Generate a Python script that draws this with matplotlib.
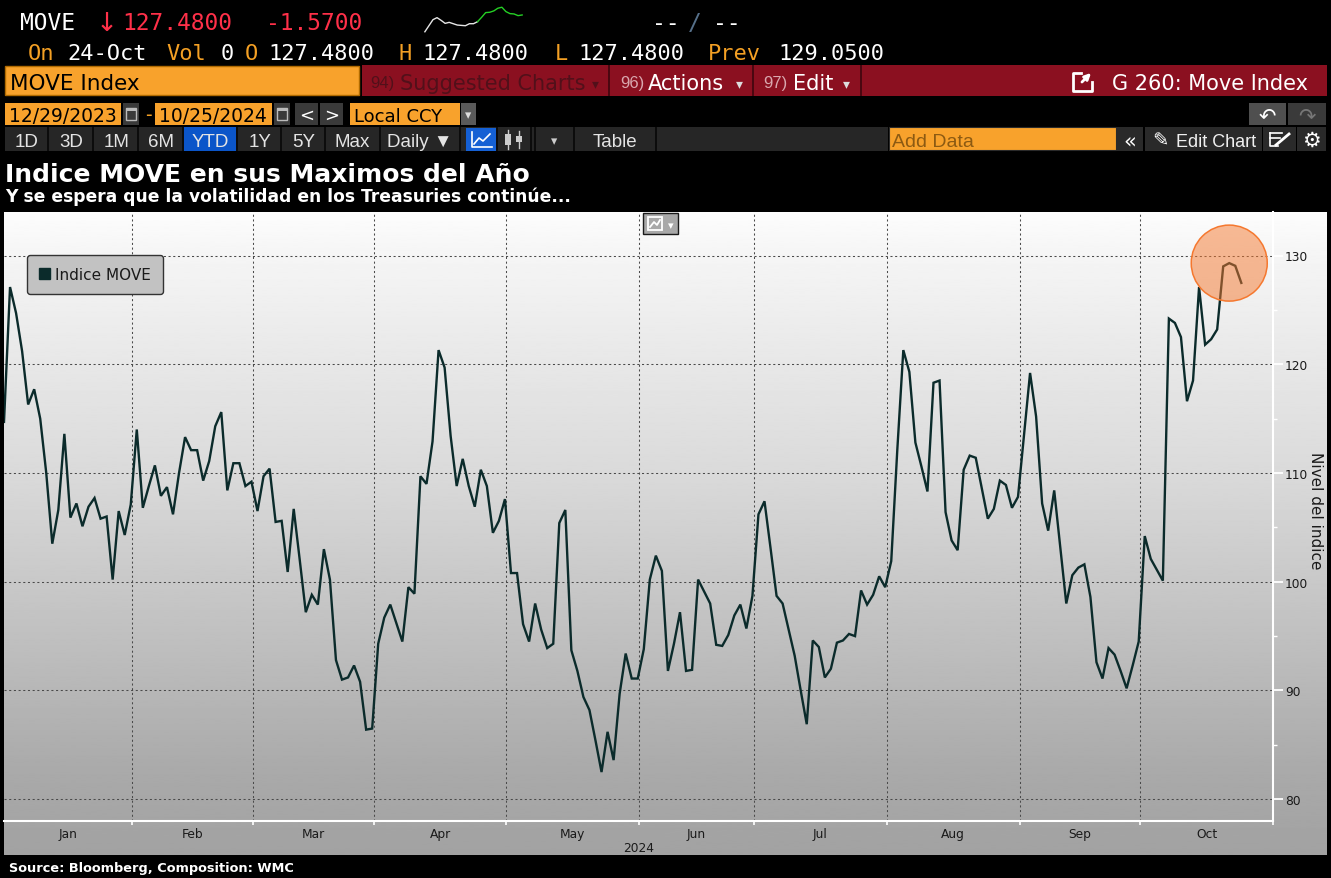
import logging
import numpy as np
import pandas as pd
import matplotlib
matplotlib.use("Agg")
import matplotlib.pyplot as plt
from matplotlib.patches import Rectangle, Ellipse, Patch

logging.getLogger("matplotlib.font_manager").setLevel(logging.ERROR)

W, H = 1331, 879

# MOVE index closes, 29-Dec-2023 .. 24-Oct-2024, one per bond-market day
move_vals = [
    114.7, 127.1, 124.7, 121.2, 116.3, 117.7, 115.0, 110.0, 103.5, 106.6,
    113.6, 105.9, 107.2, 105.1, 106.9, 107.7, 105.8, 106.0, 100.2, 106.5,
    104.3, 107.1, 114.0, 106.8, 108.8, 110.7, 107.9, 108.7, 106.2, 110.0,
    113.3, 112.1, 112.1, 109.3, 111.1, 114.3, 115.6, 108.4, 110.9, 110.9,
    108.8, 109.2, 106.5, 109.7, 110.4, 105.5, 105.6, 100.9, 106.7, 102.0,
    97.2, 98.8, 97.9, 103.0, 100.2, 92.8, 91.0, 91.2, 92.3, 90.8,
    86.4, 86.5, 94.3, 96.7, 97.9, 96.2, 94.5, 99.5, 98.9, 109.7,
    109.0, 112.9, 121.3, 119.7, 113.4, 108.8, 111.3, 108.8, 106.9, 110.3,
    108.8, 104.5, 105.6, 107.6, 100.8, 100.8, 96.1, 94.5, 98.0, 95.6,
    93.9, 94.3, 105.4, 106.6, 93.7, 91.8, 89.4, 88.2, 85.4, 82.5,
    86.2, 83.6, 89.7, 93.4, 91.1, 91.1, 93.8, 100.2, 102.4, 101.0,
    91.8, 94.3, 97.2, 91.8, 91.9, 100.2, 99.1, 98.0, 94.2, 94.1,
    95.1, 96.9, 97.9, 95.7, 98.7, 106.2, 107.4, 103.1, 98.7, 98.0,
    95.6, 93.2, 90.0, 86.9, 94.6, 94.0, 91.2, 92.0, 94.4, 94.6,
    95.2, 95.0, 99.2, 97.9, 98.8, 100.5, 99.5, 101.9, 112.1, 121.3,
    119.3, 112.8, 110.6, 108.3, 118.3, 118.5, 106.4, 103.8, 102.9, 110.3,
    111.6, 111.4, 108.6, 105.8, 106.7, 109.3, 108.9, 106.8, 107.8, 113.5,
    119.2, 115.2, 107.2, 104.7, 108.4, 103.2, 98.0, 100.6, 101.3, 101.6,
    98.6, 92.6, 91.1, 93.9, 93.3, 91.8, 90.2, 92.3, 94.5, 104.2,
    102.1, 101.1, 100.1, 124.2, 123.8, 122.5, 116.6, 118.5, 127.1, 121.8,
    122.3, 123.2, 129.0, 129.3, 129.05, 127.48,
]
bond_holidays = ["2024-01-01", "2024-01-15", "2024-02-19", "2024-03-29", "2024-05-27",
                 "2024-06-19", "2024-07-04", "2024-09-02", "2024-10-14"]
month_names = ["Jan", "Feb", "Mar", "Apr", "May", "Jun", "Jul", "Aug", "Sep", "Oct"]
y_ticks = [80, 90, 100, 110, 120, 130]
series_name = "Indice MOVE"

# little sparkline in the quote header (white = older, green = recent)
spark_vals = [2, 20, 38, 44, 36, 27, 30, 26, 22, 21, 20, 26, 26, 32,
              45, 59, 60, 64, 72, 75, 62, 56, 55, 50, 52]
spark_split = 13

# trading-day index -> month boundaries
days = pd.bdate_range("2023-12-29", "2024-11-01", freq="C", holidays=bond_holidays)
x = np.arange(len(move_vals))
first_idx = [int(np.argmax((days.year == 2024) & (days.month == m))) for m in range(2, 12)]
bounds = [i - 0.75 for i in first_idx]
x_left = 0.0
mids = [(a + b) / 2 for a, b in zip([x_left] + bounds[:-1], bounds)]

# colours / fonts
ORANGE = "#f8a22c"
AMBER = "#f4a024"
RED = "#ff3049"
BAR_RED = "#8b1020"
LINE = "#0b2b2b"
MONO = ["DejaVu Sans Mono"]
SANS = ["DejaVu Sans"]
NARROW = ["Liberation Sans Narrow", "Liberation Sans", "DejaVu Sans"]

fig = plt.figure(figsize=(W / 100, H / 100), dpi=100, facecolor="black")

ui = fig.add_axes([0, 0, 1, 1])
ui.set_xlim(0, W)
ui.set_ylim(H, 0)
ui.axis("off")


def box(x0, y0, x1, y1, fc, ec="none", lw=0.0):
    ui.add_patch(Rectangle((x0, y0), x1 - x0, y1 - y0, fc=fc, ec=ec, lw=lw))


def txt(x0, y0, s, c="white", size=14, fam=SANS, ha="left", weight="normal"):
    ui.text(x0, y0, s, color=c, fontsize=size, family=fam, ha=ha, va="baseline",
            fontweight=weight)


# ---- quote header
txt(20, 30, "MOVE", "white", 16.5, MONO)
txt(96, 31, "↓", RED, 19, SANS)
txt(122, 30, "127.4800", RED, 16.5, MONO)
txt(266, 30, "-1.5700", RED, 16.5, MONO)
txt(652, 30, "--", "white", 16.5, MONO)
txt(688, 30, "/", "#56708a", 16.5, MONO)
txt(713, 30, "--", "white", 16.5, MONO)

sp = fig.add_axes([420 / W, 1 - 34 / H, 107 / W, 27 / H])
sp.axis("off")
sx = np.arange(len(spark_vals))
sp.plot(sx[:spark_split + 1], spark_vals[:spark_split + 1], color="#e6e6e6", lw=1)
sp.plot(sx[spark_split:], spark_vals[spark_split:], color="#25d025", lw=1)

row2 = [(28, "On", AMBER), (67, "24-Oct", "white"), (166, "Vol", AMBER), (221, "0", "white"),
        (245, "O", AMBER), (268, "127.4800", "white"), (399, "H", AMBER),
        (422, "127.4800", "white"), (555, "L", AMBER), (578, "127.4800", "white"),
        (708, "Prev", AMBER), (778, "129.0500", "white")]
for px, s, c in row2:
    txt(px, 60, s, c, 15.8, MONO)

# ---- menu bar
box(5, 67, 359, 96, ORANGE, ec="#b06a00", lw=1)
txt(10, 90, "MOVE Index", "black", 15.5)
box(362, 66, 1327, 97, BAR_RED)
for sx0 in (609, 753, 861):
    box(sx0 - 1, 66, sx0 + 1, 97, "#4a0710")
txt(370, 88, "94)", "#52101a", 12, NARROW)
txt(400, 90, "Suggested Charts", "#52101a", 15)
txt(592, 88, "▾", "#52101a", 10)
txt(620, 88, "96)", "#d9a7ae", 12, NARROW)
txt(648, 90, "Actions", "white", 15)
txt(736, 88, "▾", "#dddddd", 10)
txt(763, 88, "97)", "#d9a7ae", 12, NARROW)
txt(793, 90, "Edit", "white", 15)
txt(843, 88, "▾", "#dddddd", 10)
ui.plot([1081, 1073, 1073, 1092, 1092], [74, 74, 92, 92, 83], color="white", lw=2)
ui.annotate("", xy=(1093, 72), xytext=(1080, 85),
            arrowprops=dict(arrowstyle="-|>", color="white", lw=2, mutation_scale=9))
txt(1112, 90, "G 260: Move Index", "white", 15)

# ---- date row
box(5, 104, 121, 126, ORANGE)
txt(9, 122, "12/29/2023", "black", 13.5)
box(155, 104, 272, 126, ORANGE)
txt(159, 122, "10/25/2024", "black", 13.5)
for cx in (123, 274):
    box(cx, 104, cx + 16, 126, "#3a3a3a")
    ui.add_patch(Rectangle((cx + 3, 109), 10, 12, fc="none", ec="#bbbbbb", lw=1))
    box(cx + 3, 109, cx + 13, 112, "#bbbbbb")
txt(145, 121, "-", AMBER, 13.5)
box(295, 104, 318, 126, "#3a3a3a")
txt(306.5, 121, "<", "white", 13, ha="center")
box(320, 104, 343, 126, "#3a3a3a")
txt(331.5, 121, ">", "white", 13, ha="center")
box(350, 104, 460, 126, ORANGE)
txt(354, 122, "Local CCY", "black", 13)
box(461, 104, 476, 126, "#5a5a5a")
txt(468.5, 119, "▾", "#dddddd", 9, ha="center")
box(1249, 104, 1286, 126, "#4f4f4f")
txt(1267.5, 122, "↶", "white", 15, ha="center")
box(1288, 104, 1326, 126, "#3a3a3a")
txt(1307, 122, "↷", "#777777", 15, ha="center")

# ---- range / tool row
box(5, 128, 888, 152, "#262626")
box(183, 128, 237, 152, "#0b55c9")
box(466, 129, 496, 152, "#1560d4")
for sx0 in (48, 93, 138, 183, 237, 281, 325, 380, 460, 497, 531, 535, 574, 656):
    box(sx0 - 1, 128, sx0 + 1, 152, "#0c0c0c")
for cx, s in [(27, "1D"), (71, "3D"), (117, "1M"), (161, "6M"), (210, "YTD"), (260, "1Y"),
              (304, "5Y"), (352, "Max"), (420, "Daily ▼"), (615, "Table")]:
    txt(cx, 147, s, "#e4e4e4", 13.5, NARROW, ha="center")
ui.plot([472, 472, 492], [133, 148, 148], color="white", lw=1.2)
ui.plot([474, 479, 483, 490], [145, 139, 142, 135], color="white", lw=1.2)
for cx, top, bot, r0, r1 in [(508, 131, 150, 135, 146), (519, 132, 149, 137, 143)]:
    ui.plot([cx, cx], [top, bot], color="#cccccc", lw=1)
    box(cx - 3, r0, cx + 3, r1, "#cccccc")
txt(554, 145, "▾", "#cccccc", 9, ha="center")

box(889, 128, 1116, 151, ORANGE, ec="#2a2a2a", lw=0.8)
txt(892, 147, "Add Data", "#8c5a12", 14, NARROW)
for bx0, bx1 in [(1117, 1143), (1145, 1262), (1263, 1296), (1297, 1326)]:
    box(bx0, 128, bx1, 152, "#2a2a2a")
txt(1130, 147, "«", "white", 15, ha="center")
txt(1160, 147, "✎", "white", 14, ha="center")
txt(1176, 147, "Edit Chart", "#f0f0f0", 13, NARROW)
ui.plot([1270, 1282], [134, 134], color="white", lw=1.2)
ui.plot([1270, 1280], [139, 139], color="white", lw=1.2)
ui.plot([1270, 1270, 1278], [134, 147, 147], color="white", lw=1.2)
ui.plot([1276, 1289], [146, 135], color="white", lw=2)
txt(1311.5, 147, "⚙", "white", 15, ha="center")

# ---- titles
txt(5, 181.5, "Indice MOVE en sus Maximos del Año", "white", 18, weight="bold")
txt(5, 202, "Y se espera que la volatilidad en los Treasuries continúe...", "white", 12.3,
    weight="bold")
txt(9, 872.5, "Source: Bloomberg, Composition: WMC", "white", 9.3, weight="bold")

# ---- chart panel gradient
gy = np.linspace(213, 856, 400)
grad = np.interp(gy, [213, 257, 473, 657, 773, 856], [0.99, 0.96, 0.855, 0.74, 0.665, 0.635])
ui.imshow(grad[:, None], extent=(4, 1327, 856, 213), cmap="gray", vmin=0, vmax=1,
          aspect="auto", interpolation="bilinear", origin="upper")
ui.set_xlim(0, W)
ui.set_ylim(H, 0)

# chart-type icon
box(643, 214, 678, 235, "#a8a8a8", ec="#1a1a1a", lw=1)
ui.add_patch(Rectangle((648, 218), 14, 13, fc="none", ec="white", lw=1.3))
ui.plot([650, 654, 657, 660], [228, 223, 226, 221], color="white", lw=1.3)
txt(670.5, 229, "▾", "white", 8, ha="center")

# ---- main chart
ax = fig.add_axes([4 / W, (H - 822) / H, 1269 / W, 609 / H])
ax.patch.set_alpha(0)
ax.plot(x, move_vals, color=LINE, lw=1.7, solid_joinstyle="miter", zorder=3)
ax.set_xlim(x_left, bounds[-1])
ax.set_ylim(78, 134)

ax.set_yticks(y_ticks)
ax.set_yticks(np.arange(85, 131, 10), minor=True)
ax.yaxis.tick_right()
ax.tick_params(axis="y", which="major", length=7, width=1.3, color="white", pad=1.5,
               labelsize=8.8, labelcolor="#1a1a1a")
ax.tick_params(axis="y", which="minor", length=3, width=1, color="white")
ax.yaxis.set_label_position("right")
ax.set_ylabel("Nivel del indice", rotation=270, va="bottom", fontsize=11, color="#1a1a1a")
ax.yaxis.set_label_coords((1308 - 4) / 1269, (822 - 511) / 609)

ax.set_xticks(bounds)
ax.set_xticklabels([])
ax.set_xticks(mids, minor=True)
ax.set_xticklabels(month_names, minor=True)
ax.tick_params(axis="x", which="major", length=3, width=1.2, color="white", direction="out")
ax.tick_params(axis="x", which="minor", length=0, pad=4, labelsize=8.8, labelcolor="#1a1a1a")
ax.text(0.5, -0.043, "2024", transform=ax.transAxes, ha="center", va="center",
        fontsize=8.8, color="#1a1a1a")

ax.grid(True, which="major", color="#4a4a4a", lw=0.75, ls=(0, (2, 2.5)))
for side in ("left", "top"):
    ax.spines[side].set_visible(False)
for side in ("right", "bottom"):
    ax.spines[side].set_color("white")
    ax.spines[side].set_linewidth(1.5)

# highlight of the yearly high
imax = int(np.argmax(move_vals))
ppx = 1269 / (bounds[-1] - x_left)
ppy = 609 / (134 - 78)
ax.add_patch(Ellipse((imax, move_vals[imax]), 2 * 38 / ppx, 2 * 38 / ppy,
                     facecolor=(0.96, 0.47, 0.18, 0.5), edgecolor="#f5782f", lw=1.1,
                     zorder=4))

leg = ax.legend(handles=[Patch(facecolor=LINE, edgecolor=LINE, label=series_name)],
                loc="upper left", bbox_to_anchor=(23 / 1269, 1 - 43 / 609),
                borderaxespad=0, fancybox=True, facecolor="#c2c2c2", edgecolor="#333333",
                framealpha=1, fontsize=11, handlelength=0.72, handleheight=0.72,
                handletextpad=0.3, borderpad=0.8, labelcolor="#1a1a1a")
leg.get_frame().set_linewidth(1)

fig.savefig("out.png", dpi=100, facecolor="black")
